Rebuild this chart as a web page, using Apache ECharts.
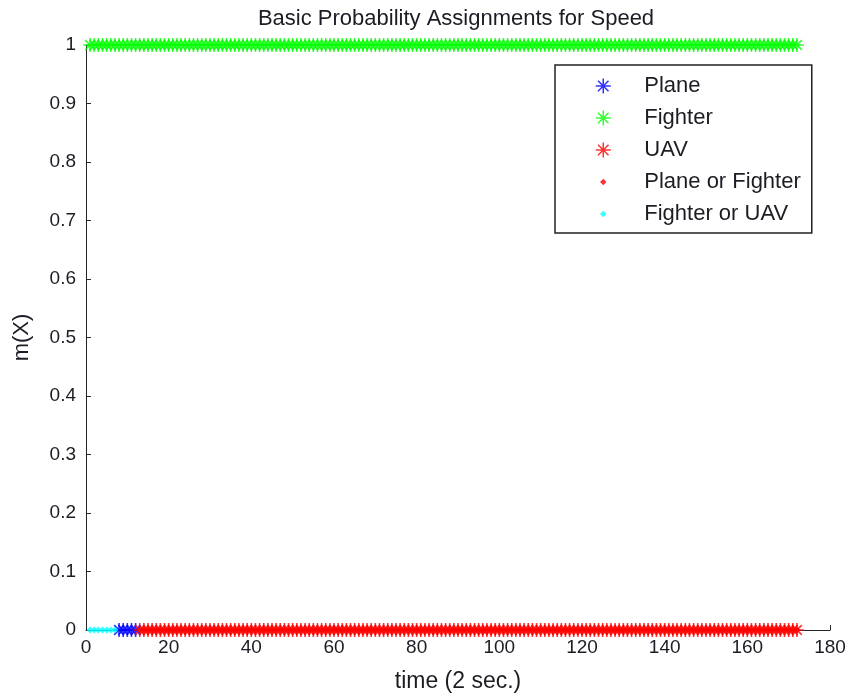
<!DOCTYPE html>
<html>
<head>
<meta charset="utf-8">
<title>Basic Probability Assignments for Speed</title>
<script src="https://cdn.jsdelivr.net/npm/echarts@6/dist/echarts.min.js"></script>
<style>
  html, body { margin: 0; padding: 0; background: #ffffff; }
  #chart { width: 852px; height: 698px; }
</style>
</head>
<body>
<div id="chart"></div>
<script>
// Basic probability mass per hypothesis, one value per time step (2 s each).
// Each series starts at the given time step and runs for its array length.
const seriesNames = ['Plane', 'Fighter', 'UAV', 'Plane or Fighter', 'Fighter or UAV'];

const planeStart = 8;
const planeMass = [0, 0, 0, 0, 0];

const fighterStart = 1;
const fighterMass = [
  1, 1, 1, 1, 1, 1, 1, 1, 1, 1, 1, 1, 1, 1, 1, 1, 1, 1, 1, 1,
  1, 1, 1, 1, 1, 1, 1, 1, 1, 1, 1, 1, 1, 1, 1, 1, 1, 1, 1, 1,
  1, 1, 1, 1, 1, 1, 1, 1, 1, 1, 1, 1, 1, 1, 1, 1, 1, 1, 1, 1,
  1, 1, 1, 1, 1, 1, 1, 1, 1, 1, 1, 1, 1, 1, 1, 1, 1, 1, 1, 1,
  1, 1, 1, 1, 1, 1, 1, 1, 1, 1, 1, 1, 1, 1, 1, 1, 1, 1, 1, 1,
  1, 1, 1, 1, 1, 1, 1, 1, 1, 1, 1, 1, 1, 1, 1, 1, 1, 1, 1, 1,
  1, 1, 1, 1, 1, 1, 1, 1, 1, 1, 1, 1, 1, 1, 1, 1, 1, 1, 1, 1,
  1, 1, 1, 1, 1, 1, 1, 1, 1, 1, 1, 1, 1, 1, 1, 1, 1, 1, 1, 1,
  1, 1, 1, 1, 1, 1, 1, 1, 1, 1, 1, 1
];

const uavStart = 13;
const uavMass = [
  0, 0, 0, 0, 0, 0, 0, 0, 0, 0, 0, 0, 0, 0, 0, 0, 0, 0, 0, 0,
  0, 0, 0, 0, 0, 0, 0, 0, 0, 0, 0, 0, 0, 0, 0, 0, 0, 0, 0, 0,
  0, 0, 0, 0, 0, 0, 0, 0, 0, 0, 0, 0, 0, 0, 0, 0, 0, 0, 0, 0,
  0, 0, 0, 0, 0, 0, 0, 0, 0, 0, 0, 0, 0, 0, 0, 0, 0, 0, 0, 0,
  0, 0, 0, 0, 0, 0, 0, 0, 0, 0, 0, 0, 0, 0, 0, 0, 0, 0, 0, 0,
  0, 0, 0, 0, 0, 0, 0, 0, 0, 0, 0, 0, 0, 0, 0, 0, 0, 0, 0, 0,
  0, 0, 0, 0, 0, 0, 0, 0, 0, 0, 0, 0, 0, 0, 0, 0, 0, 0, 0, 0,
  0, 0, 0, 0, 0, 0, 0, 0, 0, 0, 0, 0, 0, 0, 0, 0, 0, 0, 0, 0
];

const planeOrFighterStart = 13;
const planeOrFighterMass = [
  0, 0, 0, 0, 0, 0, 0, 0, 0, 0, 0, 0, 0, 0, 0, 0, 0, 0, 0, 0,
  0, 0, 0, 0, 0, 0, 0, 0, 0, 0, 0, 0, 0, 0, 0, 0, 0, 0, 0, 0,
  0, 0, 0, 0, 0, 0, 0, 0, 0, 0, 0, 0, 0, 0, 0, 0, 0, 0, 0, 0,
  0, 0, 0, 0, 0, 0, 0, 0, 0, 0, 0, 0, 0, 0, 0, 0, 0, 0, 0, 0,
  0, 0, 0, 0, 0, 0, 0, 0, 0, 0, 0, 0, 0, 0, 0, 0, 0, 0, 0, 0,
  0, 0, 0, 0, 0, 0, 0, 0, 0, 0, 0, 0, 0, 0, 0, 0, 0, 0, 0, 0,
  0, 0, 0, 0, 0, 0, 0, 0, 0, 0, 0, 0, 0, 0, 0, 0, 0, 0, 0, 0,
  0, 0, 0, 0, 0, 0, 0, 0, 0, 0, 0, 0, 0, 0, 0, 0, 0, 0, 0, 0
];

const fighterOrUavStart = 1;
const fighterOrUavMass = [0, 0, 0, 0, 0, 0, 0];

// Axis ranges and tick spacing
const xMin = 0, xMax = 180, xStep = 20;
const yMin = 0, yMax = 1, yStep = 0.1;

const TEXT = '#1c1c24';
const AXIS = '#262626';
const FONT = '"Liberation Sans", Arial, sans-serif';

// Asterisk marker: vertical, horizontal and two diagonal strokes
const STAR = 'path://M0,-6L0,6M-6,0L6,0M-4.2,-4.2L4.2,4.2M-4.2,4.2L4.2,-4.2';
// Small diamond dot for the legend, padded so it draws smaller than the asterisks
const DOT_ICON = 'path://M0,-2.6L2.6,0L0,2.6L-2.6,0ZM-6,-6M6,6';

function toPoints(start, values) {
  return values.map((v, i) => [start + i, v]);
}

function starSeries(name, color, start, values) {
  return {
    name: name,
    type: 'scatter',
    z: 5,
    data: toPoints(start, values),
    symbol: STAR,
    symbolSize: 14,
    itemStyle: { color: color, borderColor: color, borderWidth: 1.6 },
    emphasis: { disabled: true },
    silent: true
  };
}

function dotSeries(name, color, start, values) {
  return {
    name: name,
    type: 'scatter',
    z: 5,
    data: toPoints(start, values),
    symbol: 'diamond',
    symbolSize: 7,
    itemStyle: { color: color, borderWidth: 0 },
    emphasis: { disabled: true },
    silent: true
  };
}

const chart = echarts.init(document.getElementById('chart'), null, { renderer: 'canvas' });

chart.setOption({
  animation: false,
  backgroundColor: '#ffffff',
  textStyle: { fontFamily: FONT },
  graphic: [{
    type: 'text',
    x: 456,
    y: 19,
    style: {
      text: 'Basic Probability Assignments for Speed',
      font: '22px ' + FONT,
      fill: TEXT,
      align: 'center',
      verticalAlign: 'middle'
    }
  }],
  grid: { left: 86, right: 22, top: 45, bottom: 65, containLabel: false },
  legend: {
    orient: 'vertical',
    left: 555,
    top: 65,
    padding: [10, 11, 8, 40],
    itemWidth: 72,
    itemHeight: 15,
    itemGap: 10,
    symbolKeepAspect: true,
    borderColor: '#222222',
    borderWidth: 1.5,
    backgroundColor: '#ffffff',
    selectedMode: false,
    textStyle: { fontSize: 22, color: TEXT, fontFamily: FONT },
    itemStyle: { borderWidth: 1.5 },
    data: [
      { name: seriesNames[0], icon: STAR },
      { name: seriesNames[1], icon: STAR },
      { name: seriesNames[2], icon: STAR },
      { name: seriesNames[3], icon: DOT_ICON, itemStyle: { borderWidth: 0 } },
      { name: seriesNames[4], icon: DOT_ICON, itemStyle: { borderWidth: 0 } }
    ]
  },
  xAxis: {
    type: 'value',
    min: xMin,
    max: xMax,
    interval: xStep,
    name: 'time (2 sec.)',
    nameLocation: 'middle',
    nameGap: 40,
    nameTextStyle: { fontSize: 23, color: TEXT, fontFamily: FONT },
    axisLine: { show: true, onZero: false, lineStyle: { color: AXIS, width: 1 } },
    axisTick: { show: true, inside: true, length: 5, lineStyle: { color: AXIS } },
    axisLabel: { fontSize: 19, color: TEXT, margin: 8, fontFamily: FONT },
    splitLine: { show: false }
  },
  yAxis: {
    type: 'value',
    min: yMin,
    max: yMax,
    interval: yStep,
    name: 'm(X)',
    nameLocation: 'middle',
    nameRotate: 90,
    nameGap: 53,
    nameTextStyle: { fontSize: 22, color: TEXT, fontFamily: FONT },
    axisLine: { show: true, onZero: false, lineStyle: { color: AXIS, width: 1 } },
    axisTick: { show: true, inside: true, length: 5, lineStyle: { color: AXIS } },
    axisLabel: { fontSize: 19, color: TEXT, margin: 10, fontFamily: FONT },
    splitLine: { show: false }
  },
  series: [
    starSeries(seriesNames[0], '#0000ff', planeStart, planeMass),
    starSeries(seriesNames[1], '#00ff00', fighterStart, fighterMass),
    starSeries(seriesNames[2], '#ff0000', uavStart, uavMass),
    dotSeries(seriesNames[3], '#ff0000', planeOrFighterStart, planeOrFighterMass),
    dotSeries(seriesNames[4], '#00ffff', fighterOrUavStart, fighterOrUavMass)
  ]
});
</script>
</body>
</html>
